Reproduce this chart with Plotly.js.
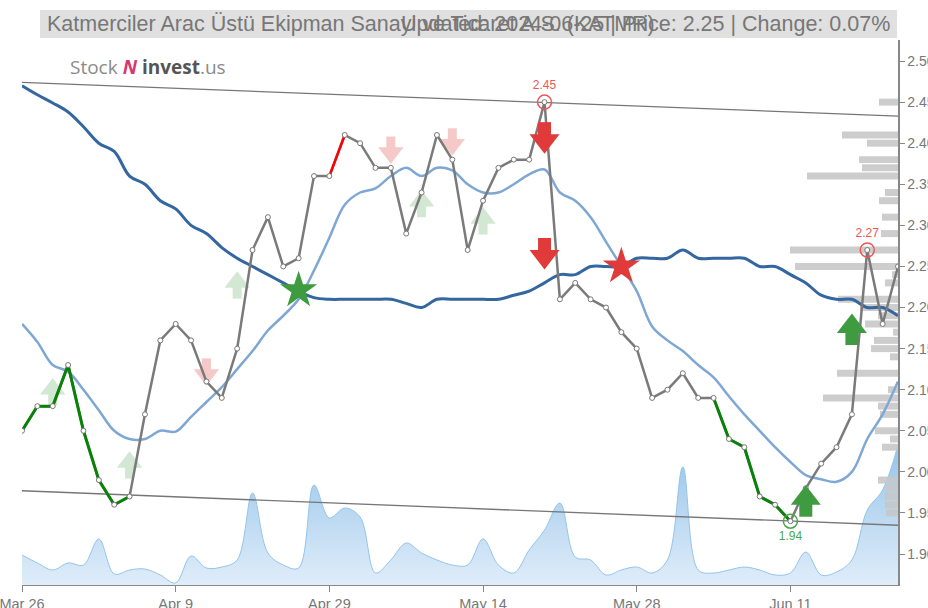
<!DOCTYPE html>
<html><head><meta charset="utf-8">
<script src="https://cdn.plot.ly/plotly-3.0.1.min.js"></script>
<style>html,body{margin:0;padding:0;background:#fff}#chart{width:928px;height:608px}</style>
</head><body><div id="chart"></div>
<script>
const dates = ["Mar 26","Mar 27","Mar 28","Mar 29","Apr 1","Apr 2","Apr 3","Apr 4","Apr 5","Apr 8",
"Apr 9","Apr 15","Apr 16","Apr 17","Apr 18","Apr 19","Apr 22","Apr 24","Apr 25","Apr 26",
"Apr 29","Apr 30","May 2","May 3","May 6","May 7","May 8","May 9","May 10","May 13",
"May 14","May 15","May 16","May 17","May 20","May 21","May 22","May 23","May 24","May 27",
"May 28","May 29","May 30","May 31","Jun 3","Jun 4","Jun 5","Jun 6","Jun 7","Jun 10",
"Jun 11","Jun 12","Jun 13","Jun 14","Jun 20","Jun 21","Jun 24","Jun 25"];
const tickLabels = ["Mar 26","Apr 9","Apr 29","May 14","May 28","Jun 11"];
const price = [2.05,2.08,2.08,2.13,2.05,1.99,1.96,1.97,2.07,2.16,
2.18,2.16,2.11,2.09,2.15,2.27,2.31,2.25,2.26,2.36,
2.36,2.41,2.40,2.37,2.37,2.29,2.34,2.41,2.38,2.27,
2.33,2.37,2.38,2.38,2.45,2.21,2.23,2.21,2.20,2.17,
2.15,2.09,2.10,2.12,2.09,2.09,2.04,2.03,1.97,1.96,
1.94,1.98,2.01,2.03,2.07,2.27,2.18,2.25];
const slowMA = [2.47,2.459,2.449,2.438,2.42,2.40,2.39,2.36,2.35,2.33,
2.32,2.30,2.29,2.273,2.26,2.25,2.24,2.23,2.22,2.212,
2.21,2.21,2.21,2.21,2.21,2.205,2.20,2.21,2.21,2.21,
2.21,2.21,2.215,2.22,2.23,2.24,2.24,2.25,2.25,2.25,
2.26,2.26,2.26,2.27,2.26,2.26,2.26,2.26,2.25,2.25,
2.24,2.23,2.215,2.21,2.21,2.20,2.20,2.19];
const fastMA = [2.18,2.158,2.13,2.122,2.10,2.075,2.05,2.04,2.04,2.05,
2.049,2.067,2.085,2.103,2.125,2.147,2.172,2.19,2.21,2.245,
2.285,2.325,2.34,2.345,2.36,2.37,2.36,2.37,2.367,2.35,
2.34,2.34,2.35,2.362,2.368,2.34,2.33,2.31,2.28,2.25,
2.22,2.177,2.16,2.147,2.13,2.115,2.092,2.07,2.05,2.03,
2.012,1.996,1.991,1.988,2.0,2.04,2.07,2.11];
const volume = [30,22,15,22,20,46,11,15,16,10,
2,29,17,18,25,92,32,20,17,100,
67,77,68,12,25,42,32,25,20,20,
46,20,12,35,55,82,28,25,10,15,
18,12,25,118,15,12,15,18,15,10,
12,33,10,13,25,75,95,140];
const profilePrice = [2.45,2.41,2.40,2.38,2.37,2.36,2.34,2.33,2.31,2.29,2.27,2.25,2.24,2.23,2.21,2.20,2.19,2.18,2.17,2.16,2.15,2.14,2.12,2.10,2.09,2.08,2.07,2.05,2.04,2.03,1.99,1.98,1.97,1.96,1.95];
const profileVol = [19,56,31,39,36,91,13,19,16,17,108,103,6,13,60,38,20,33,5,24,27,8,61,10,75,20,18,23,8,16,20,13,13,13,12];
const trendX = ["Mar 26","Jun 25"];
const trendUpper = [2.474,2.433];
const trendLower = [1.977,1.935];
const greenRuns = [[0,7],[45,50]];
const redRuns = [[20,21]];
const weakBuyX = ["Mar 28","Apr 4","Apr 18","May 8","May 14"];
const weakBuyY = [2.094,2.005,2.224,2.323,2.302];
const weakSellX = ["Apr 16","May 6","May 10"];
const weakSellY = [2.125,2.395,2.405];
const strongSellX = ["May 20","May 20"];
const strongSellY = [2.411,2.27];
const strongBuyX = ["Jun 12","Jun 20"];
const strongBuyY = [1.960,2.169];
const starBuyX = ["Apr 25"], starBuyY = [2.221];
const starSellX = ["May 27"], starSellY = [2.25];
const highX = ["May 20","Jun 21"], highY = [2.45,2.27];
const lowX = ["Jun 11"], lowY = [1.94];
const titleLeft = "Katmerciler Arac Üstü Ekipman Sanayi ve Ticaret A.S. (KATMR)";
const titleRight = "Updated: 2024-06-25 | Price: 2.25 | Change: 0.07%";

const FONT = "Liberation Sans, Arial, sans-serif";
const traces = [];
traces.push({x:dates, y:volume, xaxis:'x', yaxis:'y', type:'scatter', mode:'lines',
  line:{color:'#93c4ea', width:1, shape:'spline', smoothing:1},
  fill:'tozeroy',
  fillgradient:{type:'vertical', start:0, stop:130, colorscale:[[0,'rgba(222,236,249,0.95)'],[1,'rgba(150,196,234,0.95)']]},
  hoverinfo:'skip'});
traces.push({type:'bar', orientation:'h', x:profileVol, y:profilePrice, xaxis:'x2', yaxis:'y2',
  width:0.0085, marker:{color:'rgba(200,200,200,0.9)', line:{width:0}}, hoverinfo:'skip'});
const L = (o) => Object.assign({xaxis:'x3', yaxis:'y2', type:'scatter', hoverinfo:'skip'}, o);
// block arrow = stem (line-ns) + triangular head, joined at the data point
function arrow(xs, ys, up, color, headSize, stemW, stemL) {
  return [
    L({x:xs, y:ys, mode:'markers', marker:{symbol:'line-ns', size:stemL, color:color, angle: up ? 0 : 180,
      standoff: stemL/2, line:{color:color, width:stemW}}}),
    L({x:xs, y:ys, mode:'markers', marker:{symbol:'triangle-down', size:headSize, color:color, angle: up ? 180 : 0,
      standoff: headSize/4, line:{width:0}}})
  ];
}
traces.push(...arrow(weakBuyX, weakBuyY, true, '#d2e8d2', 22, 9, 9));
traces.push(...arrow(weakSellX, weakSellY, false, '#f6c9c9', 22, 9, 9));
traces.push(L({x:trendX, y:trendUpper, mode:'lines', line:{color:'#777', width:1.3}}));
traces.push(L({x:trendX, y:trendLower, mode:'lines', line:{color:'#777', width:1.3}}));
traces.push(L({x:dates, y:slowMA, mode:'lines', line:{color:'#3466a0', width:3, shape:'spline'}}));
traces.push(L({x:dates, y:fastMA, mode:'lines', line:{color:'#7fa7d3', width:2.5, shape:'spline'}}));
traces.push(L({x:dates, y:price, mode:'lines', line:{color:'#7a7a7a', width:2.5}}));
greenRuns.forEach(r => traces.push(L({x:dates.slice(r[0], r[1]+1), y:price.slice(r[0], r[1]+1), mode:'lines', line:{color:'#0a820a', width:3}})));
redRuns.forEach(r => traces.push(L({x:dates.slice(r[0], r[1]+1), y:price.slice(r[0], r[1]+1), mode:'lines', line:{color:'#ff0000', width:2.5}})));
traces.push(L({x:dates, y:price, mode:'markers', marker:{symbol:'circle', size:5, color:'#fff', line:{color:'#777', width:1}}}));
traces.push(...arrow(strongSellX, strongSellY, false, '#e03a3a', 26, 13, 10));
traces.push(...arrow(strongBuyX, strongBuyY, true, '#3f9b3f', 26, 13, 10));
traces.push(L({x:starBuyX, y:starBuyY, mode:'markers', marker:{symbol:'star', size:28, color:'#3f9b3f'}}));
traces.push(L({x:starSellX, y:starSellY, mode:'markers', marker:{symbol:'star', size:28, color:'#e03a3a'}}));
traces.push(L({x:highX, y:highY, mode:'markers+text', text:highY.map(v=>v.toFixed(2)), textposition:'top center',
  textfont:{family:FONT, size:12, color:'#ee5555'}, marker:{symbol:'circle-open', size:14, color:'#ee5555', line:{width:1.5}}}));
traces.push(L({x:lowX, y:lowY, mode:'markers+text', text:lowY.map(v=>v.toFixed(2)), textposition:'bottom center',
  textfont:{family:FONT, size:12, color:'#4aa84a'}, marker:{symbol:'circle-open', size:14, color:'#4aa84a', line:{width:1.5}}}));

const layout = {
  width:928, height:608, showlegend:false, hovermode:false,
  paper_bgcolor:'#fff', plot_bgcolor:'rgba(0,0,0,0)',
  margin:{l:22, r:30, t:40, b:23},
  font:{family:FONT, color:'#777'},
  xaxis:{type:'category', categoryorder:'array', categoryarray:dates, range:[0,57], tickvals:tickLabels, ticktext:tickLabels,
    showgrid:false, zeroline:false, showline:true, linecolor:'#888', linewidth:1, ticks:'outside', ticklen:6, tickcolor:'#888',
    tickfont:{family:FONT, size:14.5, color:'#777'}},
  yaxis:{range:[0,545], visible:false, fixedrange:true},
  xaxis2:{overlaying:'x', range:[876,0], visible:false},
  yaxis2:{overlaying:'y', side:'right', range:[1.8623,2.5256], dtick:0.05, tickformat:'.2f', showgrid:false, zeroline:false,
    showline:true, linecolor:'#888', linewidth:1.5, ticks:'outside', ticklen:5, tickcolor:'#888',
    tickfont:{family:FONT, size:14, color:'#777'}},
  xaxis3:{overlaying:'x', type:'category', categoryorder:'array', categoryarray:dates, range:[0,57], visible:false},
  shapes:[{type:'rect', xref:'paper', yref:'paper', x0:0.0205, x1:0.9989, y0:1.0037, y1:1.055, fillcolor:'#e0e0e0', line:{width:0}, layer:'above'}],
  annotations:[
    {xref:'paper', yref:'paper', x:0.026, y:1.0294, xanchor:'left', yanchor:'middle', showarrow:false, text:titleLeft, font:{family:FONT, size:21.5, color:'#777'}},
    {xref:'paper', yref:'paper', x:0.9932, y:1.0294, xanchor:'right', yanchor:'middle', showarrow:false, text:titleRight, font:{family:FONT, size:21.5, color:'#777'}},
    {xref:'paper', yref:'paper', x:0.0525, y:0.9505, xanchor:'left', yanchor:'middle', showarrow:false,
      text:'<span style="color:#8a8a8a">Stock </span><b><i style="color:#d8366e">N</i></b> <b style="color:#555">invest</b><span style="color:#8a8a8a">.us</span>',
      font:{family:'Open Sans, Liberation Sans, sans-serif', size:19}}
  ]
};
Plotly.newPlot('chart', traces, layout, {staticPlot:true, displayModeBar:false});
</script></body></html>
